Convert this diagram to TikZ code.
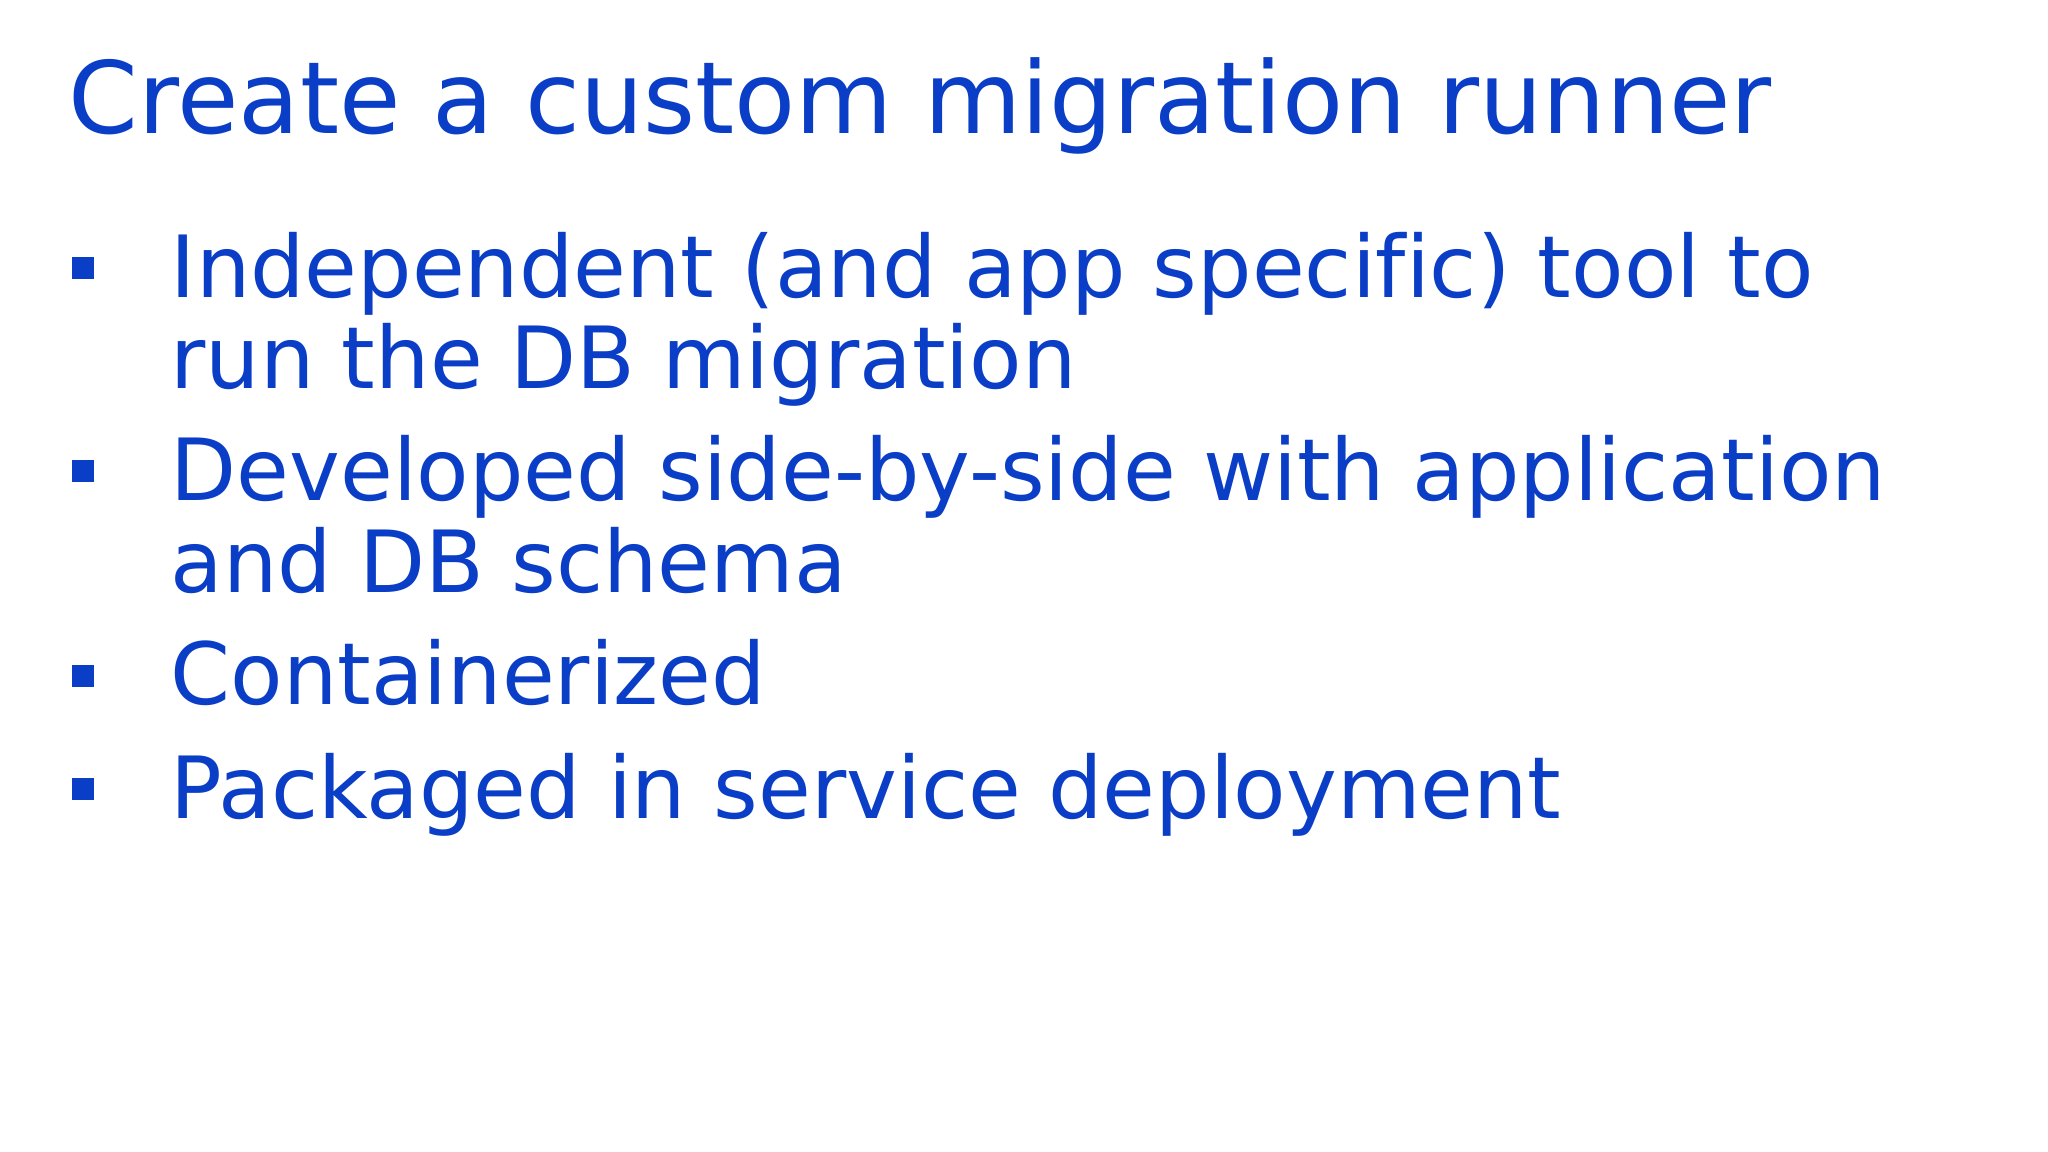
\documentclass[tikz,border=0pt]{standalone}
\usepackage{fontspec}
\setmainfont{DejaVu Sans}[Ligatures=NoCommon]
\definecolor{tblue}{HTML}{0B3EC6}
\begin{document}
\begin{tikzpicture}[x=0.01cm,y=-0.01cm,
  ttl/.style={anchor=base west,inner sep=0,text=tblue,font=\fontsize{28.4}{34}\selectfont},
  txt/.style={anchor=base west,inner sep=0,text=tblue,font=\fontsize{24.4}{30}\selectfont},
  sq/.style={fill=tblue,minimum size=0.21cm,inner sep=0}]
\useasboundingbox[fill=white] (0,0) rectangle (2048,1152);
\node[ttl] (title) at (68,134) {Create a custom migration runner};
\node[txt] (l1) at (170,298) {Independent (and app specific) tool to};
\node[txt] (l2) at (170,389) {run the DB migration};
\node[txt] (l3) at (170,501) {Developed side-by-side with application};
\node[txt] (l4) at (170,593) {and DB schema};
\node[txt] (l5) at (170,705) {Containerized};
\node[txt] (l6) at (170,818) {Packaged in service deployment};
\node[sq] (b1) at (83,268) {};
\node[sq] (b2) at (83,471) {};
\node[sq] (b3) at (83,676) {};
\node[sq] (b4) at (83,789) {};
\end{tikzpicture}
\end{document}
